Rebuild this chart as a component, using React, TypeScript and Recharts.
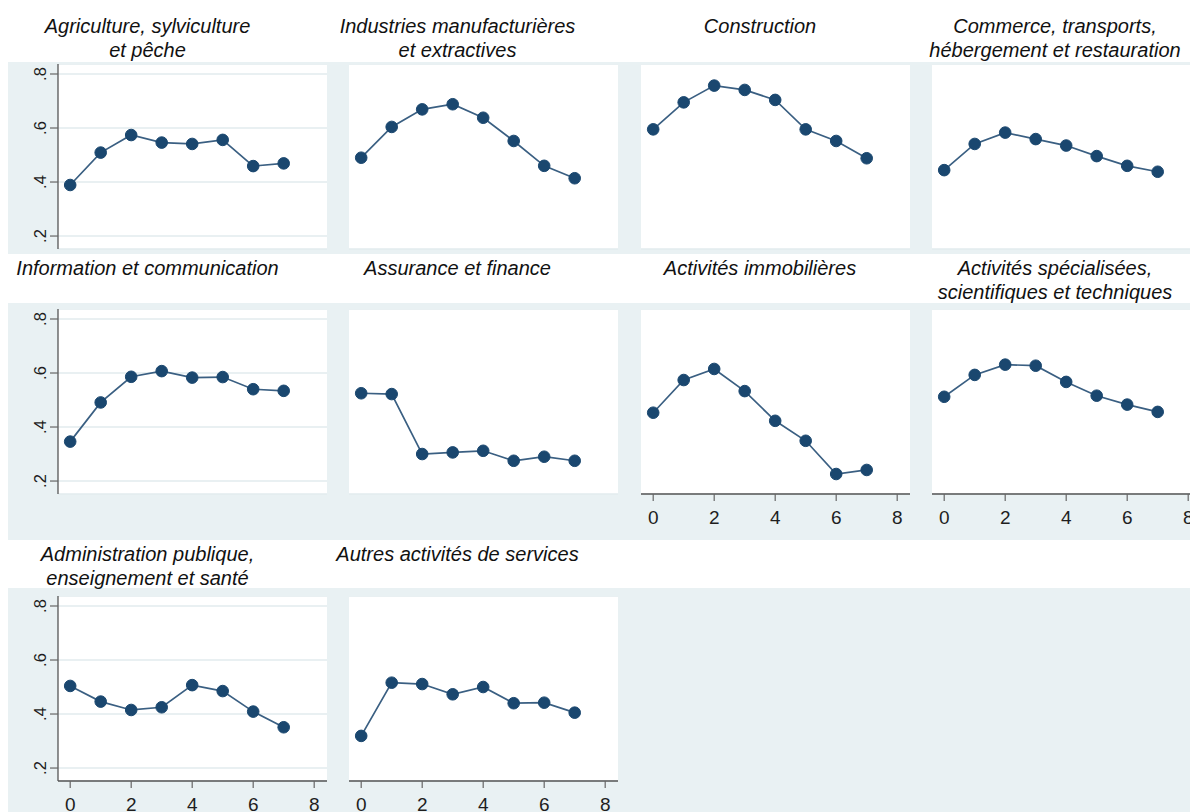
import React from 'react';
import { LineChart, Line, XAxis, YAxis, CartesianGrid } from 'recharts';

// ---------- data ----------
const periods = [0, 1, 2, 3, 4, 5, 6, 7];
const xTicks = [0, 2, 4, 6, 8];
const yTicks = [0.2, 0.4, 0.6, 0.8];

const agriculture = [0.389, 0.509, 0.574, 0.546, 0.541, 0.556, 0.459, 0.469];
const industries = [0.49, 0.604, 0.669, 0.688, 0.638, 0.552, 0.46, 0.414];
const construction = [0.595, 0.695, 0.757, 0.741, 0.704, 0.595, 0.552, 0.488];
const commerce = [0.444, 0.541, 0.583, 0.559, 0.535, 0.496, 0.46, 0.438];
const information = [0.346, 0.491, 0.586, 0.607, 0.583, 0.585, 0.54, 0.534];
const assurance = [0.525, 0.522, 0.3, 0.306, 0.312, 0.275, 0.29, 0.275];
const immobilier = [0.453, 0.574, 0.615, 0.533, 0.423, 0.349, 0.226, 0.241];
const specialisees = [0.512, 0.593, 0.631, 0.627, 0.567, 0.516, 0.483, 0.456];
const administration = [0.504, 0.446, 0.415, 0.425, 0.507, 0.485, 0.409, 0.351];
const autres = [0.319, 0.516, 0.511, 0.473, 0.5, 0.44, 0.442, 0.405];

const titles = [
  ['Agriculture, sylviculture', 'et pêche'],
  ['Industries manufacturières', 'et extractives'],
  ['Construction'],
  ['Commerce, transports,', 'hébergement et restauration'],
  ['Information et communication'],
  ['Assurance et finance'],
  ['Activités immobilières'],
  ['Activités spécialisées,', 'scientifiques et techniques'],
  ['Administration publique,', 'enseignement et santé'],
  ['Autres activités de services'],
];
const seriesList = [
  agriculture, industries, construction, commerce,
  information, assurance, immobilier, specialisees,
  administration, autres,
];

// ---------- layout ----------
const GRAY = '#e9f1f3';
const NAVY = '#1a476f';
const FONT = '"Liberation Sans", Arial, Helvetica, sans-serif';
const colLeft = [58, 349, 641, 932];
const rowTop = [64, 309, 596];
const titleCenter = [147.5, 457.5, 760, 1055];
const titleTop = [14, 256, 542];
const grayBands = [
  { top: 62, height: 192 },
  { top: 303, height: 237 },
  { top: 588, height: 224 },
];
const PLOT_W = 269;
const PLOT_H = 185;
const AXIS_W = 50;
const AXIS_H = 40;

const fmtY = (v: number) => v.toFixed(1).replace(/^0/, '');

const YTick = (props: any) => {
  const { x, y, payload } = props;
  return (
    <text
      x={x}
      y={y}
      transform={`rotate(-90 ${x} ${y})`}
      textAnchor="middle"
      fontSize={16.5}
      fill="#1e1e1e"
      fontFamily={FONT}
    >
      {fmtY(payload.value)}
    </text>
  );
};

const XTick = (props: any) => {
  const { x, y, payload } = props;
  return (
    <text x={x} y={y} dy={20.5} textAnchor="middle" fontSize={19} fill="#1e1e1e" fontFamily={FONT}>
      {payload.value}
    </text>
  );
};

function Panel({ idx }: { idx: number }) {
  const row = Math.floor(idx / 4);
  const col = idx % 4;
  const values = seriesList[idx];
  const data = periods.map((p, i) => ({ x: p, v: values[i] }));
  const showY = col === 0;
  const showX = row === 2 || (row === 1 && col >= 2);
  return (
    <div
      style={{
        position: 'absolute',
        left: colLeft[col] - AXIS_W,
        top: rowTop[row],
        width: PLOT_W + AXIS_W,
        height: PLOT_H + AXIS_H,
      }}
    >
      <LineChart
        width={PLOT_W + AXIS_W}
        height={PLOT_H + AXIS_H}
        data={data}
        margin={{ top: 0, right: 0, bottom: 0, left: 0 }}
      >
        <CartesianGrid vertical={false} horizontal={true} fill="#ffffff" stroke="#e2ebee" strokeWidth={1.5} />
        <XAxis
          dataKey="x"
          type="number"
          domain={[-0.4, 8.42]}
          ticks={xTicks}
          interval={0}
          height={AXIS_H}
          tickSize={7}
          tickMargin={2}
          axisLine={showX ? { stroke: '#555', strokeWidth: 1.3 } : false}
          tickLine={showX ? { stroke: '#666', strokeWidth: 1.2 } : false}
          tick={showX ? <XTick /> : false}
        />
        <YAxis
          type="number"
          domain={[0.152, 0.837]}
          ticks={yTicks}
          interval={0}
          width={AXIS_W}
          tickSize={8}
          tickMargin={4}
          axisLine={showY ? { stroke: '#555', strokeWidth: 1.3 } : false}
          tickLine={showY ? { stroke: '#666', strokeWidth: 1.2 } : false}
          tick={showY ? <YTick /> : false}
        />
        <Line
          type="linear"
          dataKey="v"
          stroke="#3a5f82"
          strokeWidth={1.7}
          dot={{ r: 5.8, fill: NAVY, stroke: NAVY, strokeWidth: 1 }}
          activeDot={false}
          isAnimationActive={false}
        />
      </LineChart>
    </div>
  );
}

function Title({ idx }: { idx: number }) {
  const row = Math.floor(idx / 4);
  const col = idx % 4;
  return (
    <div
      style={{
        position: 'absolute',
        left: titleCenter[col] - 150,
        width: 300,
        top: titleTop[row],
        textAlign: 'center',
        fontFamily: FONT,
        fontStyle: 'italic',
        fontSize: 20,
        lineHeight: '24px',
        color: '#111',
        whiteSpace: 'nowrap',
      }}
    >
      {titles[idx].map((t, i) => (
        <div key={i}>{t}</div>
      ))}
    </div>
  );
}

export default function App() {
  return (
    <div
      style={{
        position: 'absolute',
        left: 0,
        top: 0,
        width: 1190,
        height: 812,
        overflow: 'hidden',
        background: '#ffffff',
      }}
    >
      {grayBands.map((b, i) => (
        <div
          key={i}
          style={{ position: 'absolute', left: 8, top: b.top, width: 1182, height: b.height, background: GRAY }}
        />
      ))}
      {titles.map((_, i) => (
        <Title key={'t' + i} idx={i} />
      ))}
      {seriesList.map((_, i) => (
        <Panel key={'p' + i} idx={i} />
      ))}
    </div>
  );
}
